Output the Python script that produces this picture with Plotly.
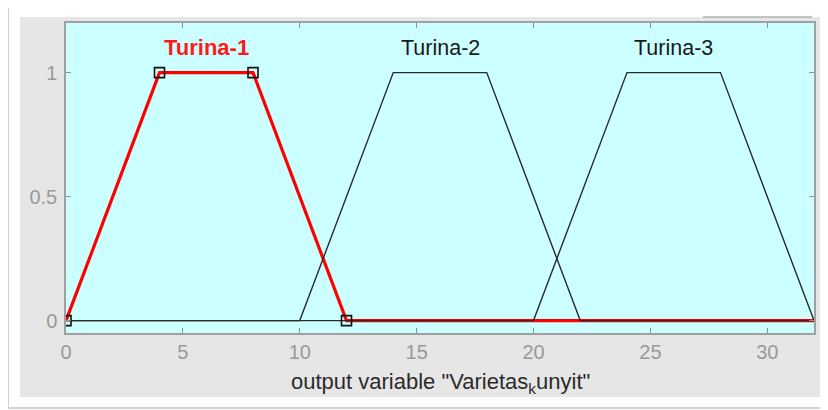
import plotly.graph_objects as go

# Data
mf_names = ["Turina-1", "Turina-2", "Turina-3"]
mf_params = [[0, 4, 8, 12], [10, 14, 18, 22], [20, 24, 28, 32]]
x_range = [0, 32]
y_range = [-0.05, 1.2]
x_ticks = [0, 5, 10, 15, 20, 25, 30]
y_ticks = [0, 0.5, 1]
y_tick_labels = ["0", "0.5", "1"]
selected = 0
x_title = 'output variable "Varietas<sub>k</sub>unyit"'

FONT = "Arial, Liberation Sans, sans-serif"

fig = go.Figure()

def mf_curve(p):
    xs = [x_range[0], p[0], p[1], p[2], p[3], x_range[1]]
    ys = [0, 0, 1, 1, 0, 0]
    return xs, ys

# selected (red) first, drawn underneath
order = [selected] + [i for i in range(len(mf_names)) if i != selected]
for i in order:
    xs, ys = mf_curve(mf_params[i])
    if i == selected:
        fig.add_trace(go.Scatter(x=xs, y=ys, mode="lines",
                                 line=dict(color="#ff0000", width=3.2),
                                 hoverinfo="skip", showlegend=False))
    else:
        fig.add_trace(go.Scatter(x=xs, y=ys, mode="lines",
                                 line=dict(color="#2a2a2a", width=1.4),
                                 hoverinfo="skip", showlegend=False))

# square markers on selected MF vertices
p = mf_params[selected]
fig.add_trace(go.Scatter(x=p, y=[0, 1, 1, 0], mode="markers",
                         marker=dict(symbol="square-open", size=10, color="#111111",
                                     line=dict(width=1.6, color="#111111")),
                         hoverinfo="skip", showlegend=False))

# MF labels
for i, name in enumerate(mf_names):
    cx = (mf_params[i][1] + mf_params[i][2]) / 2
    if i == selected:
        txt = "<b>" + name + "</b>"
        col = "#ff1a1a"
        sz = 22
    else:
        txt = name
        col = "#1a1a1a"
        sz = 21.5
    fig.add_annotation(x=cx, y=1.1, xref="x", yref="y", text=txt, showarrow=False,
                       font=dict(family=FONT, size=sz, color=col),
                       xanchor="center", yanchor="middle")

# page offset of the figure (default body margin)
OFF = 8
W, H = 828 - OFF, 410 - OFF
ml, mr, mt, mb = 66 - OFF, 14, 23 - OFF, 77
pw, ph = W - ml - mr, H - mt - mb

def px(xp):
    return (xp - OFF - ml) / pw

def py(yp):
    return (H - mb - (yp - OFF)) / ph

# x-axis title
fig.add_annotation(x=0.5, y=py(383), xref="paper", yref="paper", text=x_title,
                   showarrow=False, font=dict(family=FONT, size=22, color="#2b2b2b"),
                   xanchor="center", yanchor="middle")

shapes = [
    # outer white frame
    dict(type="rect", xref="paper", yref="paper", x0=px(8), x1=px(835), y0=py(408), y1=py(5),
         line=dict(color="#c4c4c4", width=1.5), fillcolor="white", layer="below"),
    # gray panel
    dict(type="rect", xref="paper", yref="paper", x0=px(20), x1=px(823), y0=py(397), y1=py(17),
         line=dict(width=0), fillcolor="#e6e6e6", layer="below"),
    # plot background
    dict(type="rect", xref="paper", yref="paper", x0=0, x1=1, y0=0, y1=1,
         line=dict(width=0), fillcolor="#ccffff", layer="below"),
    # small line at top right
    dict(type="line", xref="paper", yref="paper", x0=px(703), x1=px(812), y0=py(17), y1=py(17),
         line=dict(color="#b0b0b0", width=1.5)),
]

fig.update_layout(
    width=W, height=H,
    margin=dict(l=ml, r=mr, t=mt, b=mb),
    paper_bgcolor="white",
    plot_bgcolor="rgba(0,0,0,0)",
    shapes=shapes,
    showlegend=False,
    font=dict(family=FONT),
)
fig.update_xaxes(range=x_range, tickvals=x_ticks, ticks="inside", ticklen=5,
                 tickcolor="#909090", showline=True, linecolor="#a0a0a0", linewidth=1.5,
                 mirror="ticks", showgrid=False, zeroline=False,
                 tickfont=dict(family=FONT, size=20, color="#999999"),
                 ticklabelstandoff=0)
fig.update_yaxes(range=y_range, tickvals=y_ticks, ticktext=y_tick_labels,
                 ticks="inside", ticklen=5, tickcolor="#909090",
                 showline=True, linecolor="#a0a0a0", linewidth=1.5,
                 mirror="ticks", showgrid=False, zeroline=False,
                 tickfont=dict(family=FONT, size=20, color="#999999"),
                 ticklabelstandoff=3)

fig.write_html("out.html")
